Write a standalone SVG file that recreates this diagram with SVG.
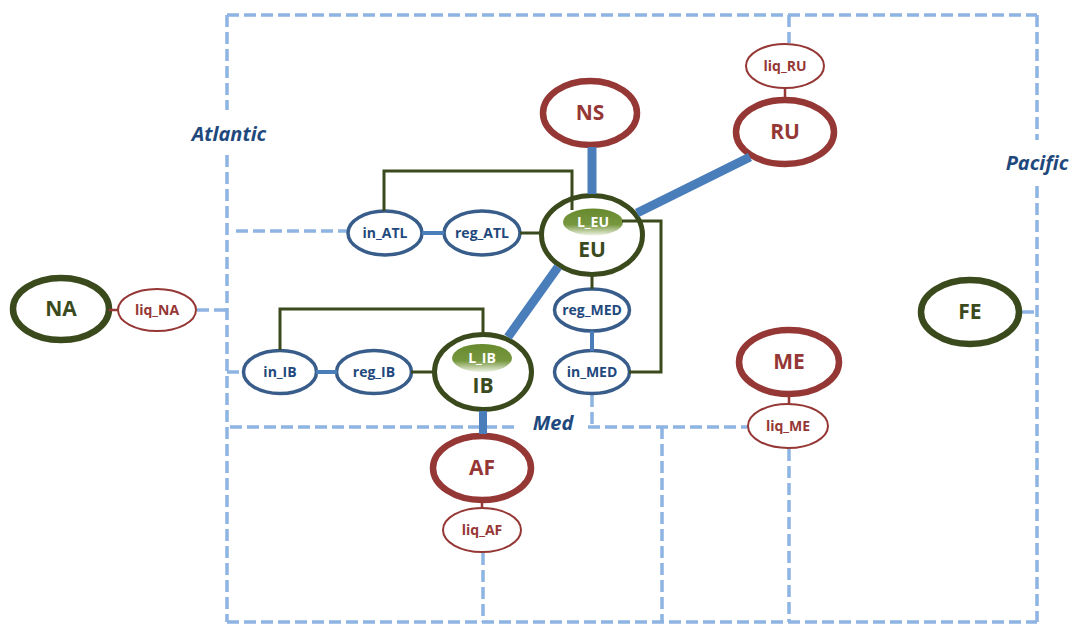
<svg xmlns="http://www.w3.org/2000/svg" width="1073" height="624" viewBox="0 0 1073 624">
  <defs>
    <linearGradient id="lgrad" x1="0" y1="0" x2="0" y2="1">
      <stop offset="0" stop-color="#688A2E"/>
      <stop offset="0.6" stop-color="#77973F"/>
      <stop offset="1" stop-color="#EEF3E4"/>
    </linearGradient>
    <style>
      text { font-family: "Open Sans", "Noto Sans", "Liberation Sans", sans-serif; font-weight: bold; text-anchor: middle; }
      .frame { fill: none; stroke: #8DB4E2; stroke-width: 3.5; stroke-dasharray: 12 5; }
      .big-g { fill: #fff; stroke: #3B4A1C; stroke-width: 6.5; }
      .big-r { fill: #fff; stroke: #953735; stroke-width: 6.5; }
      .hub { fill: #fff; stroke: #3B4A1C; stroke-width: 5; }
      .liq { fill: #fff; stroke: #953735; stroke-width: 2; }
      .blu { fill: #fff; stroke: #385D8A; stroke-width: 3.5; }
      .lnode { fill: url(#lgrad); stroke: none; }
      .t-g { fill: #3B4A1C; font-size: 21px; }
      .t-r { fill: #953735; font-size: 21px; }
      .t-rs { fill: #953735; font-size: 14px; }
      .t-b { fill: #1F497D; font-size: 14px; }
      .t-l { fill: #fff; font-size: 14px; }
      .region { fill: #1F497D; font-size: 20px; font-style: italic; }
      .thick { fill: none; stroke: #4A7EBB; stroke-width: 9; }
      .link-g { fill: none; stroke: #3B4A1C; stroke-width: 3; }
      .link-b { fill: none; stroke: #4A7EBB; stroke-width: 4; }
      .link-r { fill: none; stroke: #953735; stroke-width: 2.5; }
    </style>
  </defs>

  <!-- region boundaries -->
  <g id="regions">
    <path class="frame" d="M227,15 H1037 M227,15 V110 M227,155 V622 M1037,15 V140 M1037,186 V622 M227,622 H1037"/>
    <path class="frame" d="M236,231 H347 M197,310 H227 M227,372 H242 M1022,312 H1037 M789,15 V43"/>
    <path class="frame" d="M230,427 H518 M588,427 H748 M592,395 V427 M662,427 V622 M483,553 V622 M789,449 V622"/>
    <text class="region" x="229" y="141">Atlantic</text>
    <text class="region" x="1037" y="170">Pacific</text>
    <text class="region" x="553" y="430">Med</text>
  </g>

  <!-- nodes -->
  <g id="NA"><ellipse class="big-g" cx="61" cy="309" rx="48" ry="31"/><text class="t-g" x="61" y="316">NA</text></g>
  <g id="liq_NA"><ellipse class="liq" cx="157" cy="310" rx="39" ry="21"/><text class="t-rs" x="157" y="315">liq_NA</text></g>
  <g id="FE"><ellipse class="big-g" cx="970" cy="312" rx="49" ry="32"/><text class="t-g" x="970" y="319">FE</text></g>

  <g id="NS"><ellipse class="big-r" cx="590" cy="113" rx="47" ry="32"/><text class="t-r" x="590" y="120">NS</text></g>
  <g id="RU"><ellipse class="big-r" cx="785" cy="132" rx="49" ry="32"/><text class="t-r" x="785" y="139">RU</text></g>
  <g id="liq_RU"><ellipse class="liq" cx="785" cy="66" rx="39" ry="22"/><text class="t-rs" x="785" y="71">liq_RU</text></g>
  <g id="ME"><ellipse class="big-r" cx="789" cy="362" rx="50" ry="32"/><text class="t-r" x="789" y="369">ME</text></g>
  <g id="liq_ME"><ellipse class="liq" cx="788" cy="426" rx="40" ry="22"/><text class="t-rs" x="788" y="431">liq_ME</text></g>
  <g id="AF"><ellipse class="big-r" cx="482" cy="468" rx="49" ry="32"/><text class="t-r" x="482" y="475">AF</text></g>
  <g id="liq_AF"><ellipse class="liq" cx="482" cy="530" rx="39" ry="22"/><text class="t-rs" x="482" y="535">liq_AF</text></g>

  <g id="EU">
    <ellipse class="hub" cx="592" cy="235" rx="50.5" ry="39.5"/>
    <ellipse class="lnode" cx="593" cy="222" rx="30" ry="13.5"/>
    <text class="t-l" x="593" y="227">L_EU</text>
    <text class="t-g" x="592" y="257">EU</text>
  </g>
  <g id="IB">
    <ellipse class="hub" cx="483" cy="372" rx="48.5" ry="37.5"/>
    <ellipse class="lnode" cx="482" cy="358" rx="30" ry="14"/>
    <text class="t-l" x="482" y="363">L_IB</text>
    <text class="t-g" x="483" y="393">IB</text>
  </g>

  <g id="in_ATL"><ellipse class="blu" cx="385" cy="233" rx="37" ry="22"/><text class="t-b" x="385" y="238">in_ATL</text></g>
  <g id="reg_ATL"><ellipse class="blu" cx="482" cy="233" rx="38" ry="22"/><text class="t-b" x="482" y="238">reg_ATL</text></g>
  <g id="in_IB"><ellipse class="blu" cx="280" cy="372" rx="36.5" ry="21.5"/><text class="t-b" x="280" y="377">in_IB</text></g>
  <g id="reg_IB"><ellipse class="blu" cx="374" cy="372" rx="37.5" ry="21.5"/><text class="t-b" x="374" y="377">reg_IB</text></g>
  <g id="reg_MED"><ellipse class="blu" cx="592" cy="310" rx="37.5" ry="21"/><text class="t-b" x="592" y="315">reg_MED</text></g>
  <g id="in_MED"><ellipse class="blu" cx="592" cy="372" rx="37.5" ry="21.5"/><text class="t-b" x="592" y="377">in_MED</text></g>

  <!-- connectors -->
  <g id="connectors">
    <path class="thick" d="M592,147 V194"/>
    <path class="thick" d="M637,213 L750,157"/>
    <path class="thick" d="M558,267 L508,337"/>
    <path class="thick" style="stroke-width:8" d="M483,411 V434"/>
    <path class="link-r" d="M109,310 H118 M785,88 V100 M789,395 V404 M482,501 V508"/>
    <path class="link-b" d="M422,233 H444 M316,372 H337 M592,331 V351"/>
    <path class="link-g" d="M520,233 H542 M411,372 H435 M592,275 V289"/>
    <path class="link-g" d="M572,210 V171 H384 V211"/>
    <path class="link-g" d="M483,333 V309 H280 V350"/>
    <path class="link-g" d="M622,221 H661 V372 H629"/>
  </g>
</svg>
